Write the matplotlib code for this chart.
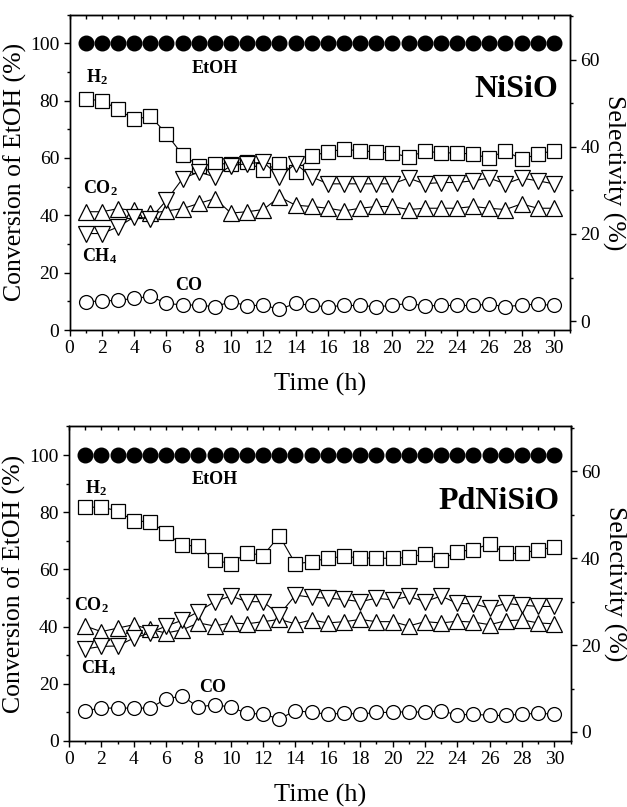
import matplotlib
matplotlib.use("Agg")
import matplotlib.pyplot as plt
from matplotlib.ticker import MultipleLocator, NullFormatter

plt.rcParams['font.family'] = ['Liberation Serif', 'DejaVu Serif']
plt.rcParams['mathtext.fontset'] = 'custom'
plt.rcParams['mathtext.rm'] = 'Liberation Serif'
plt.rcParams['mathtext.bf'] = 'Liberation Serif:bold'

time_h = list(range(1, 31))

# Conversion of EtOH (%), left axis
etoh_nisio = [100] * 30
etoh_pdnisio = [100] * 30

# Selectivity (%), right axis -- NiSiO
h2_nisio = [50.9, 50.6, 48.6, 46.3, 47.0, 43.0, 38.1, 35.7, 36.1, 36.1,
            36.5, 34.6, 36.1, 34.1, 37.8, 38.9, 39.4, 39.1, 38.8, 38.6,
            37.6, 39.0, 38.6, 38.6, 38.3, 37.4, 39.1, 37.1, 38.3, 39.1]
co2_nisio = [25.1, 25.1, 25.8, 25.4, 24.7, 25.3, 25.8, 27.0, 28.1, 24.8,
             25.1, 25.6, 28.5, 26.6, 26.3, 25.9, 25.3, 25.9, 26.3, 26.3,
             25.6, 25.9, 25.9, 25.9, 26.3, 25.9, 25.6, 26.9, 25.9, 25.9]
ch4_nisio = [20.1, 20.1, 21.6, 23.9, 23.5, 27.7, 32.7, 34.2, 33.1, 35.7,
             36.1, 36.5, 33.1, 36.1, 33.1, 31.5, 31.5, 31.5, 31.5, 31.5,
             32.8, 31.5, 31.8, 31.8, 32.2, 32.8, 31.5, 32.8, 32.2, 31.5]
co_nisio = [4.5, 4.6, 4.8, 5.2, 5.7, 4.1, 3.7, 3.7, 3.3, 4.5,
            3.5, 3.7, 2.7, 4.1, 3.6, 3.3, 3.6, 3.6, 3.3, 3.6,
            4.1, 3.5, 3.6, 3.6, 3.6, 3.9, 3.3, 3.7, 3.9, 3.6]

# Selectivity (%), right axis -- PdNiSiO
h2_pdnisio = [51.7, 51.8, 50.9, 48.6, 48.4, 45.9, 43.0, 42.8, 39.6, 38.7,
              41.3, 40.6, 45.2, 38.7, 39.2, 40.0, 40.4, 40.1, 40.0, 40.0,
              40.2, 41.0, 39.7, 41.5, 42.0, 43.3, 41.1, 41.1, 42.0, 42.5]
co2_pdnisio = [24.4, 23.1, 23.9, 24.7, 23.6, 22.8, 23.5, 25.1, 24.4, 25.1,
               24.9, 25.4, 25.9, 24.9, 25.8, 25.1, 25.4, 25.9, 25.4, 25.4,
               24.4, 25.4, 25.1, 25.5, 25.3, 24.7, 25.6, 25.8, 25.1, 24.9]
ch4_pdnisio = [19.1, 19.7, 19.8, 21.6, 22.8, 24.4, 25.7, 27.7, 30.0, 31.3,
               30.0, 30.0, 27.0, 31.5, 31.0, 30.8, 30.5, 30.0, 30.8, 30.4,
               31.2, 30.0, 31.3, 29.6, 29.5, 28.5, 29.6, 29.2, 28.9, 28.9]
co_pdnisio = [4.9, 5.5, 5.5, 5.5, 5.5, 7.6, 8.3, 5.7, 6.3, 5.7,
              4.3, 4.1, 3.0, 4.9, 4.5, 4.1, 4.3, 4.1, 4.5, 4.5,
              4.7, 4.5, 4.9, 3.9, 4.1, 3.8, 3.8, 4.1, 4.3, 4.1]

panels = [
    dict(name="NiSiO", etoh=etoh_nisio, h2=h2_nisio, co2=co2_nisio, ch4=ch4_nisio, co=co_nisio,
         rect=[0.111, 0.591, 0.798, 0.391],
         labels=dict(h2=(1.0, 88.0), etoh=(9.0, 91.3), co2=(0.85, 49.3), ch4=(0.75, 25.8),
                     co=(7.4, 15.7), name=(30.3, 84.0))),
    dict(name="PdNiSiO", etoh=etoh_pdnisio, h2=h2_pdnisio, co2=co2_pdnisio, ch4=ch4_pdnisio, co=co_pdnisio,
         rect=[0.110, 0.082, 0.800, 0.3895],
         labels=dict(h2=(1.0, 88.5), etoh=(9.0, 91.6), co2=(0.3, 47.6), ch4=(0.75, 25.5),
                     co=(8.9, 18.5), name=(30.3, 83.7))),
]

fig = plt.figure(figsize=(6.27, 8.07), dpi=100)

R0 = -2.04
R1 = 70.33

for p in panels:
    ax = fig.add_axes(p["rect"])
    ax2 = ax.twinx()
    ax.set_xlim(0, 31)
    ax.set_ylim(0, 110)
    ax2.set_ylim(R0, R1)

    mk = dict(color='black', lw=0.8, mec='black', mfc='white', mew=0.9)
    ax2.plot(time_h, p["h2"], marker='s', ms=10, **mk)
    ax2.plot(time_h, p["co2"], marker='^', ms=11, **mk)
    ax2.plot(time_h, p["ch4"], marker='v', ms=11, **mk)
    ax2.plot(time_h, p["co"], marker='o', ms=10, **mk)
    ax.plot(time_h, p["etoh"], marker='o', ms=10.5, ls='none', color='black', zorder=5)

    ax.set_zorder(ax2.get_zorder() + 1)
    ax.patch.set_visible(False)

    L = p["labels"]
    fs = 13
    ax.text(*L["h2"], r'$\mathbf{H_2}$', fontsize=fs, ha='left', va='center')
    ax.text(*L["etoh"], 'EtOH', fontsize=fs, fontweight='bold', ha='center', va='center')
    ax.text(*L["co2"], r'$\mathbf{CO_2}$', fontsize=fs, ha='left', va='center')
    ax.text(*L["ch4"], r'$\mathbf{CH_4}$', fontsize=fs, ha='left', va='center')
    ax.text(*L["co"], 'CO', fontsize=fs, fontweight='bold', ha='center', va='center')
    ax.text(*L["name"], p["name"], fontsize=23, fontweight='bold', ha='right', va='center')

    ax.xaxis.set_major_locator(MultipleLocator(2))
    ax.xaxis.set_minor_locator(MultipleLocator(1))
    ax.yaxis.set_major_locator(MultipleLocator(20))
    ax.yaxis.set_minor_locator(MultipleLocator(10))
    ax2.yaxis.set_major_locator(MultipleLocator(20))
    ax2.yaxis.set_minor_locator(MultipleLocator(10))

    ax.tick_params(axis='both', which='major', direction='out', length=4, width=1, labelsize=14)
    ax.tick_params(axis='both', which='minor', direction='out', length=2.5, width=1)
    ax2.tick_params(axis='y', which='major', direction='out', length=4, width=1, labelsize=14)
    ax2.tick_params(axis='y', which='minor', direction='out', length=2.5, width=1)

    top = ax.secondary_xaxis('top')
    top.xaxis.set_major_locator(MultipleLocator(2))
    top.xaxis.set_minor_locator(MultipleLocator(1))
    top.xaxis.set_major_formatter(NullFormatter())
    top.tick_params(which='both', direction='in', length=3, width=1)

    for sp in list(ax.spines.values()) + list(ax2.spines.values()):
        sp.set_linewidth(1.0)

    ax.set_xlabel('Time (h)', fontsize=19, labelpad=11)
    ax.set_ylabel('Conversion of EtOH (%)', fontsize=18.5, labelpad=2)
    ax2.set_ylabel('Selectivity (%)', fontsize=18.5, rotation=270, labelpad=18)

fig.savefig('out.png', dpi=100)
